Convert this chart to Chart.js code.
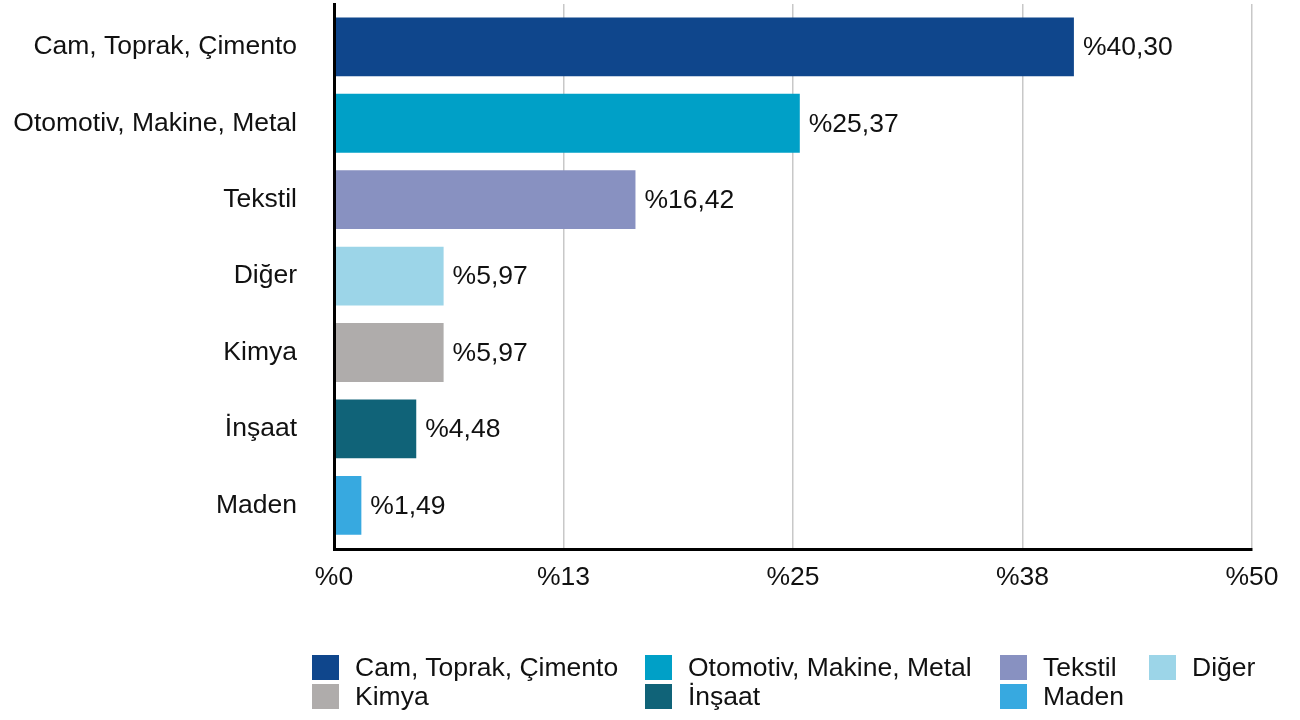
<!DOCTYPE html>
<html>
<head>
<meta charset="utf-8">
<script src="https://cdn.jsdelivr.net/npm/chart.js@4.4.1/dist/chart.umd.min.js"></script>
<style>
  html, body { margin: 0; padding: 0; background: #fff; }
  #wrap { position: relative; width: 1300px; height: 720px; }
  #c { position: absolute; left: 0; top: 0; }
  #legend {
    position: absolute; left: 312px; top: 655px;
    display: grid; grid-template-columns: 333px 355px 149px auto; row-gap: 4px;
    font: 26.5px "Liberation Sans", Arial, sans-serif; color: #111;
  }
  .item { display: flex; align-items: center; height: 25px; white-space: nowrap; }
  .box { width: 27px; height: 25px; margin-right: 16px; flex: none; }
</style>
</head>
<body>
<div id="wrap">
  <canvas id="c" width="1300" height="720"></canvas>
  <div id="legend"></div>
</div>
<script>
// Sector shares (%)
const categories = ['Cam, Toprak, Çimento', 'Otomotiv, Makine, Metal', 'Tekstil', 'Diğer', 'Kimya', 'İnşaat', 'Maden'];
const shares = [40.30, 25.37, 16.42, 5.97, 5.97, 4.48, 1.49];
const barColors = ['#0F468C', '#00A0C7', '#8891C1', '#9CD5E8', '#AFACAB', '#106378', '#37A9E0'];
const xTickLabels = ['%0', '%13', '%25', '%38', '%50'];

const FONT = '"Liberation Sans", Arial, sans-serif';
const FONT_SIZE = 26.5;
const TEXT = '#111';

const fmtShare = v => '%' + v.toFixed(2).replace('.', ',');

// Value labels at the end of each bar
const valueLabels = {
  id: 'valueLabels',
  afterDatasetsDraw(chart) {
    const ctx = chart.ctx;
    const meta = chart.getDatasetMeta(0);
    ctx.save();
    ctx.font = FONT_SIZE + 'px ' + FONT;
    ctx.fillStyle = TEXT;
    ctx.textAlign = 'left';
    ctx.textBaseline = 'middle';
    meta.data.forEach((bar, i) => {
      ctx.fillText(fmtShare(shares[i]), bar.x + 9, bar.y + 1);
    });
    ctx.restore();
  }
};

new Chart(document.getElementById('c'), {
  type: 'bar',
  data: {
    datasets: [{
      data: shares.map((v, i) => ({ x: v, y: i })),
      backgroundColor: barColors,
      borderWidth: 0,
      barPercentage: 0.77,
      categoryPercentage: 1
    }]
  },
  options: {
    indexAxis: 'y',
    responsive: false,
    animation: false,
    layout: { padding: { top: 4, right: 48, bottom: 111, left: 0 } },
    plugins: { legend: { display: false }, tooltip: { enabled: false } },
    scales: {
      x: {
        type: 'linear',
        min: 0, max: 50,
        offset: false,
        ticks: {
          stepSize: 12.5,
          color: TEXT,
          font: { family: FONT, size: FONT_SIZE },
          padding: 13,
          callback: (v, i) => xTickLabels[i]
        },
        grid: { color: '#c8c8c8', lineWidth: 1.5, drawTicks: false },
        border: { color: '#000', width: 3, z: 1 },
        afterFit(s) { s.height = 60; s.paddingLeft = 0; s.paddingRight = 0; }
      },
      y: {
        type: 'linear',
        reverse: true,
        offset: false,
        min: -0.561, max: 6.572,
        afterBuildTicks(s) { s.ticks = categories.map((_, i) => ({ value: i })); },
        ticks: {
          color: TEXT,
          font: { family: FONT, size: FONT_SIZE },
          padding: 37,
          autoSkip: false,
          callback: v => categories[v]
        },
        grid: { display: false, drawTicks: false },
        border: { color: '#000', width: 3, z: 1 },
        afterFit(s) { s.width = 334; s.paddingTop = 0; s.paddingBottom = 0; }
      }
    }
  },
  plugins: [valueLabels]
});

// Legend built from the same categories and colours
const legend = document.getElementById('legend');
categories.forEach((name, i) => {
  const item = document.createElement('div');
  item.className = 'item';
  const box = document.createElement('span');
  box.className = 'box';
  box.style.background = barColors[i];
  const label = document.createElement('span');
  label.textContent = name;
  item.appendChild(box);
  item.appendChild(label);
  legend.appendChild(item);
});
</script>
</body>
</html>
